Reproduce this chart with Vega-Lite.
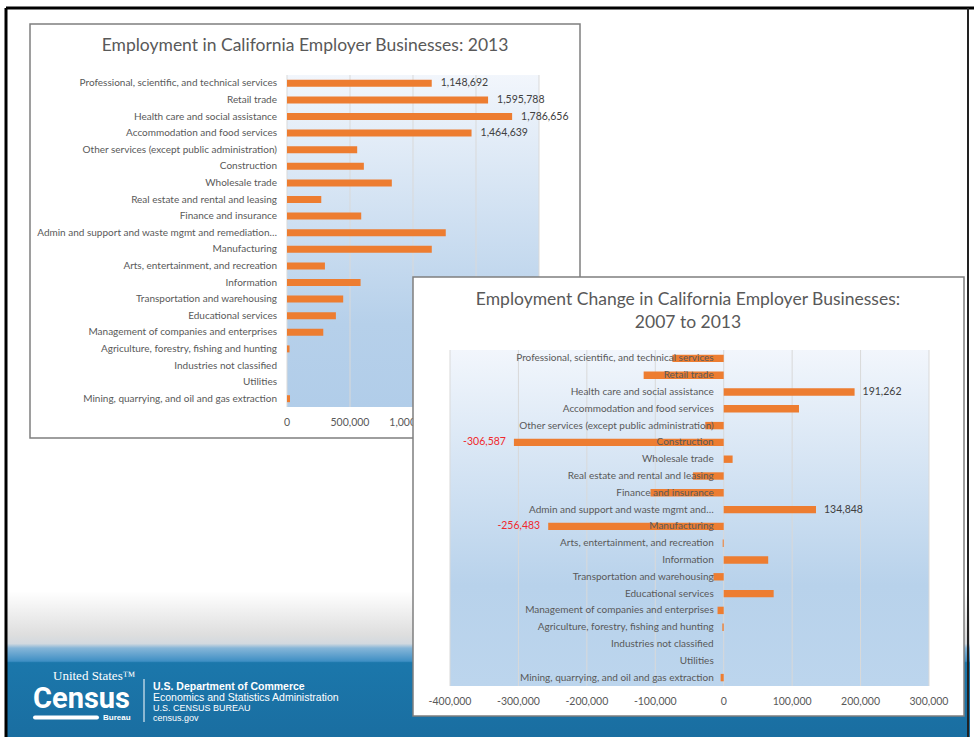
{
  "$schema": "https://vega.github.io/schema/vega-lite/v6.json",
  "background": "white",
  "width": 964,
  "height": 729,
  "autosize": {"type": "none"},
  "padding": {"left": 6, "top": 8, "right": 4, "bottom": 0},
  "config": {
    "view": {"stroke": null},
    "locale": {"number": {"decimal": ".", "thousands": ",", "grouping": [3], "currency": ["$", ""], "minus": "-"}}
  },
  "datasets": {
    "employment2013": [
      {"industry": "Professional, scientific, and technical services", "employees": 1148692},
      {"industry": "Retail trade", "employees": 1595788},
      {"industry": "Health care and social assistance", "employees": 1786656},
      {"industry": "Accommodation and food services", "employees": 1464639},
      {"industry": "Other services (except public administration)", "employees": 557000},
      {"industry": "Construction", "employees": 610000},
      {"industry": "Wholesale trade", "employees": 832000},
      {"industry": "Real estate and rental and leasing", "employees": 272000},
      {"industry": "Finance and insurance", "employees": 589000},
      {"industry": "Admin and support and waste mgmt and remediation…", "employees": 1260000},
      {"industry": "Manufacturing", "employees": 1149000},
      {"industry": "Arts, entertainment, and recreation", "employees": 301000},
      {"industry": "Information", "employees": 584000},
      {"industry": "Transportation and warehousing", "employees": 446000},
      {"industry": "Educational services", "employees": 388000},
      {"industry": "Management of companies and enterprises", "employees": 288000},
      {"industry": "Agriculture, forestry, fishing and hunting", "employees": 20000},
      {"industry": "Industries not classified", "employees": 0},
      {"industry": "Utilities", "employees": 0},
      {"industry": "Mining, quarrying, and oil and gas extraction", "employees": 24000}
    ],
    "change0713": [
      {"industry": "Professional, scientific, and technical services", "change": -75000},
      {"industry": "Retail trade", "change": -117000},
      {"industry": "Health care and social assistance", "change": 191262},
      {"industry": "Accommodation and food services", "change": 110000},
      {"industry": "Other services (except public administration)", "change": -27000},
      {"industry": "Construction", "change": -306587},
      {"industry": "Wholesale trade", "change": 13000},
      {"industry": "Real estate and rental and leasing", "change": -45000},
      {"industry": "Finance and insurance", "change": -107000},
      {"industry": "Admin and support and waste mgmt and…", "change": 134848},
      {"industry": "Manufacturing", "change": -256483},
      {"industry": "Arts, entertainment, and recreation", "change": -1500},
      {"industry": "Information", "change": 65000},
      {"industry": "Transportation and warehousing", "change": -15000},
      {"industry": "Educational services", "change": 73000},
      {"industry": "Management of companies and enterprises", "change": -9000},
      {"industry": "Agriculture, forestry, fishing and hunting", "change": -2000},
      {"industry": "Industries not classified", "change": 0},
      {"industry": "Utilities", "change": 0},
      {"industry": "Mining, quarrying, and oil and gas extraction", "change": -4500}
    ]
  },
  "resolve": {
    "scale": {"x": "independent", "y": "independent"},
    "axis": {"x": "independent", "y": "independent"}
  },
  "layer": [
    {
      "data": {"values": [{}]},
      "mark": {
        "type": "rect",
        "color": {
          "gradient": "linear", "x1": 0, "y1": 0, "x2": 0, "y2": 1,
          "stops": [
            {"offset": 0, "color": "#ffffff"},
            {"offset": 0.8, "color": "#ffffff"},
            {"offset": 0.86, "color": "#dedede"},
            {"offset": 0.872, "color": "#d2d9df"},
            {"offset": 0.878, "color": "#86b6d8"},
            {"offset": 0.896, "color": "#3f8fc4"},
            {"offset": 0.898, "color": "#1b77ab"},
            {"offset": 1, "color": "#1a6ea1"}
          ]
        }
      },
      "encoding": {}
    },
    {
      "data": {"values": [{}]},
      "mark": {"type": "rule", "color": "#000000", "strokeWidth": 3},
      "encoding": {"x": {"value": 0}, "x2": {"value": 968}, "y": {"value": 0}}
    },
    {
      "data": {"values": [{}]},
      "mark": {"type": "rule", "color": "#000000", "strokeWidth": 3},
      "encoding": {"x": {"value": 0}, "y": {"value": 0}, "y2": {"value": 729}}
    },
    {
      "data": {"values": [{}]},
      "mark": {"type": "rule", "color": "#222222", "strokeWidth": 2},
      "encoding": {"x": {"value": 962}, "y": {"value": 0}, "y2": {"value": 729}}
    },
    {
      "data": {"values": [{}]},
      "mark": {"type": "text", "text": "United States™", "font": "Liberation Serif", "fontSize": 13, "color": "white", "align": "left", "baseline": "middle"},
      "encoding": {"x": {"value": 47}, "y": {"value": 668}}
    },
    {
      "data": {"values": [{}]},
      "mark": {"type": "text", "text": "Census", "font": "Roboto", "fontWeight": "bold", "fontSize": 29, "color": "white", "align": "left", "baseline": "alphabetic"},
      "encoding": {"x": {"value": 27}, "y": {"value": 700}}
    },
    {
      "data": {"values": [{}]},
      "mark": {"type": "rule", "color": "white", "strokeWidth": 4, "strokeCap": "round"},
      "encoding": {"x": {"value": 29}, "x2": {"value": 91}, "y": {"value": 709.5}}
    },
    {
      "data": {"values": [{}]},
      "mark": {"type": "text", "text": "Bureau", "font": "Liberation Sans", "fontWeight": "bold", "fontSize": 8, "color": "white", "align": "left", "baseline": "middle"},
      "encoding": {"x": {"value": 97}, "y": {"value": 710}}
    },
    {
      "data": {"values": [{}]},
      "mark": {"type": "rule", "color": "white", "strokeWidth": 1},
      "encoding": {"x": {"value": 138}, "y": {"value": 671}, "y2": {"value": 714}}
    },
    {
      "data": {"values": [{}]},
      "mark": {"type": "text", "text": "U.S. Department of Commerce", "font": "Liberation Sans", "fontWeight": "bold", "fontSize": 10.5, "color": "white", "align": "left", "baseline": "middle"},
      "encoding": {"x": {"value": 147}, "y": {"value": 678.5}}
    },
    {
      "data": {"values": [{}]},
      "mark": {"type": "text", "text": "Economics and Statistics Administration", "font": "Liberation Sans", "fontSize": 10.5, "color": "white", "align": "left", "baseline": "middle"},
      "encoding": {"x": {"value": 147}, "y": {"value": 690.3}}
    },
    {
      "data": {"values": [{}]},
      "mark": {"type": "text", "text": "U.S. CENSUS BUREAU", "font": "Liberation Sans", "fontSize": 9, "color": "white", "align": "left", "baseline": "middle"},
      "encoding": {"x": {"value": 147}, "y": {"value": 700.3}}
    },
    {
      "data": {"values": [{}]},
      "mark": {"type": "text", "text": "census.gov", "font": "Liberation Sans", "fontSize": 9, "color": "white", "align": "left", "baseline": "middle"},
      "encoding": {"x": {"value": 147}, "y": {"value": 709.7}}
    },
    {
      "data": {"values": [{}]},
      "mark": {"type": "rect", "fill": "white", "stroke": "#7f7f7f", "strokeWidth": 1.5},
      "encoding": {"x": {"value": 24}, "x2": {"value": 574}, "y": {"value": 16}, "y2": {"value": 430}}
    },
    {
      "data": {"values": [{}]},
      "mark": {"type": "text", "text": "Employment in California Employer Businesses: 2013", "font": "Lato", "fontSize": 17.5, "color": "#595959", "align": "center", "baseline": "middle"},
      "encoding": {"x": {"value": 299}, "y": {"value": 38}}
    },
    {
      "resolve": {"scale": {"y": "independent"}, "axis": {"y": "independent"}},
      "layer": [
        {
          "layer": [
            {
              "data": {"values": [{}]},
              "mark": {
                "type": "rect",
                "color": {
                  "gradient": "linear", "x1": 0, "y1": 0, "x2": 0, "y2": 1,
                  "stops": [
                    {"offset": 0, "color": "#f2f6fc"},
                    {"offset": 0.75, "color": "#b6d0ea"},
                    {"offset": 1, "color": "#b1cde9"}
                  ]
                }
              },
              "encoding": {
                "x": {"datum": 0, "type": "quantitative", "scale": {"domain": [0, 2000000], "range": [281, 533], "nice": false, "zero": false}, "axis": null},
                "x2": {"datum": 2000000},
                "y": {"datum": 0, "type": "quantitative", "scale": {"domain": [0, 1], "range": [67, 399], "nice": false, "zero": false}, "axis": null},
                "y2": {"datum": 1}
              }
            },
            {
              "data": {"values": [{"tick": 0}, {"tick": 500000}, {"tick": 1000000}, {"tick": 1500000}, {"tick": 2000000}]},
              "layer": [
                {
                  "mark": {"type": "rule", "color": "#d9d9d9", "strokeWidth": 1},
                  "encoding": {
                    "x": {"field": "tick", "type": "quantitative", "axis": null},
                    "y": {"datum": 0, "type": "quantitative", "axis": null},
                    "y2": {"datum": 1}
                  }
                },
                {
                  "mark": {"type": "text", "align": "center", "baseline": "middle", "dy": 16, "font": "Lato", "fontSize": 10.5, "color": "#595959"},
                  "encoding": {
                    "x": {"field": "tick", "type": "quantitative", "axis": null},
                    "y": {"datum": 1, "type": "quantitative", "axis": null},
                    "text": {"field": "tick", "type": "quantitative", "format": ","}
                  }
                }
              ]
            }
          ]
        },
        {
          "data": {"name": "employment2013"},
          "encoding": {
            "y": {
              "field": "industry", "type": "nominal", "axis": null,
              "scale": {
                "domain": ["Professional, scientific, and technical services", "Retail trade", "Health care and social assistance", "Accommodation and food services", "Other services (except public administration)", "Construction", "Wholesale trade", "Real estate and rental and leasing", "Finance and insurance", "Admin and support and waste mgmt and remediation…", "Manufacturing", "Arts, entertainment, and recreation", "Information", "Transportation and warehousing", "Educational services", "Management of companies and enterprises", "Agriculture, forestry, fishing and hunting", "Industries not classified", "Utilities", "Mining, quarrying, and oil and gas extraction"],
                "range": [67, 399], "paddingInner": 0.58, "paddingOuter": 0.29
              }
            }
          },
          "layer": [
            {
              "mark": {"type": "bar", "color": "#ED7D31"},
              "encoding": {
                "x": {
                  "field": "employees", "type": "quantitative",
                  "scale": {"domain": [0, 2000000], "range": [281, 533], "nice": false, "zero": false},
                  "axis": null
                }
              }
            },
            {
              "mark": {"type": "text", "align": "right", "baseline": "middle", "dx": -10, "font": "Lato", "fontSize": 10, "color": "#595959"},
              "encoding": {
                "x": {"datum": 0, "type": "quantitative"},
                "text": {"field": "industry", "type": "nominal"}
              }
            },
            {
              "transform": [{"filter": {"field": "industry", "oneOf": ["Professional, scientific, and technical services", "Retail trade", "Health care and social assistance", "Accommodation and food services"]}}],
              "mark": {"type": "text", "align": "left", "baseline": "middle", "dx": 9, "font": "Lato", "fontSize": 10.5, "color": "#404040"},
              "encoding": {
                "x": {"field": "employees", "type": "quantitative"},
                "text": {"field": "employees", "type": "quantitative", "format": ","}
              }
            }
          ]
        }
      ]
    },
    {
      "data": {"values": [{}]},
      "mark": {"type": "rect", "fill": "white", "stroke": "#7f7f7f", "strokeWidth": 1.5},
      "encoding": {"x": {"value": 407}, "x2": {"value": 958}, "y": {"value": 269}, "y2": {"value": 708}}
    },
    {
      "data": {"values": [{}]},
      "mark": {"type": "text", "text": "Employment Change in California Employer Businesses:", "font": "Lato", "fontSize": 17.5, "color": "#595959", "align": "center", "baseline": "middle"},
      "encoding": {"x": {"value": 682}, "y": {"value": 292}}
    },
    {
      "data": {"values": [{}]},
      "mark": {"type": "text", "text": "2007 to 2013", "font": "Lato", "fontSize": 17.5, "color": "#595959", "align": "center", "baseline": "middle"},
      "encoding": {"x": {"value": 682}, "y": {"value": 315}}
    },
    {
      "resolve": {"scale": {"y": "independent"}, "axis": {"y": "independent"}},
      "layer": [
        {
          "layer": [
            {
              "data": {"values": [{}]},
              "mark": {
                "type": "rect",
                "color": {
                  "gradient": "linear", "x1": 0, "y1": 0, "x2": 0, "y2": 1,
                  "stops": [
                    {"offset": 0, "color": "#f2f6fc"},
                    {"offset": 0.7, "color": "#b8d2eb"},
                    {"offset": 1, "color": "#bcd5ed"}
                  ]
                }
              },
              "encoding": {
                "x": {"datum": -400000, "type": "quantitative", "scale": {"domain": [-400000, 300000], "range": [444, 923], "nice": false, "zero": false}, "axis": null},
                "x2": {"datum": 300000},
                "y": {"datum": 0, "type": "quantitative", "scale": {"domain": [0, 1], "range": [342, 678], "nice": false, "zero": false}, "axis": null},
                "y2": {"datum": 1}
              }
            },
            {
              "data": {"values": [{"tick": -400000}, {"tick": -300000}, {"tick": -200000}, {"tick": -100000}, {"tick": 0}, {"tick": 100000}, {"tick": 200000}, {"tick": 300000}]},
              "layer": [
                {
                  "mark": {"type": "rule", "color": "#d9d9d9", "strokeWidth": 1},
                  "encoding": {
                    "x": {"field": "tick", "type": "quantitative", "axis": null},
                    "y": {"datum": 0, "type": "quantitative", "axis": null},
                    "y2": {"datum": 1}
                  }
                },
                {
                  "mark": {"type": "text", "align": "center", "baseline": "middle", "dy": 16, "font": "Lato", "fontSize": 10.5, "color": "#595959"},
                  "encoding": {
                    "x": {"field": "tick", "type": "quantitative", "axis": null},
                    "y": {"datum": 1, "type": "quantitative", "axis": null},
                    "text": {"field": "tick", "type": "quantitative", "format": ","}
                  }
                }
              ]
            }
          ]
        },
        {
          "data": {"name": "change0713"},
          "encoding": {
            "y": {
              "field": "industry", "type": "nominal", "axis": null,
              "scale": {
                "domain": ["Professional, scientific, and technical services", "Retail trade", "Health care and social assistance", "Accommodation and food services", "Other services (except public administration)", "Construction", "Wholesale trade", "Real estate and rental and leasing", "Finance and insurance", "Admin and support and waste mgmt and…", "Manufacturing", "Arts, entertainment, and recreation", "Information", "Transportation and warehousing", "Educational services", "Management of companies and enterprises", "Agriculture, forestry, fishing and hunting", "Industries not classified", "Utilities", "Mining, quarrying, and oil and gas extraction"],
                "range": [342, 678], "paddingInner": 0.56, "paddingOuter": 0.28
              }
            }
          },
          "layer": [
            {
              "mark": {"type": "bar", "color": "#ED7D31"},
              "encoding": {
                "x": {
                  "field": "change", "type": "quantitative",
                  "scale": {"domain": [-400000, 300000], "range": [444, 923], "nice": false, "zero": false},
                  "axis": null
                }
              }
            },
            {
              "mark": {"type": "text", "align": "right", "baseline": "middle", "dx": -10, "font": "Lato", "fontSize": 10, "color": "#595959"},
              "encoding": {
                "x": {"datum": 0, "type": "quantitative"},
                "text": {"field": "industry", "type": "nominal"}
              }
            },
            {
              "transform": [{"filter": {"field": "industry", "oneOf": ["Health care and social assistance", "Admin and support and waste mgmt and…"]}}],
              "mark": {"type": "text", "align": "left", "baseline": "middle", "dx": 8, "font": "Lato", "fontSize": 10.5, "color": "#404040"},
              "encoding": {
                "x": {"field": "change", "type": "quantitative"},
                "text": {"field": "change", "type": "quantitative", "format": ","}
              }
            },
            {
              "transform": [{"filter": {"field": "industry", "oneOf": ["Construction", "Manufacturing"]}}],
              "mark": {"type": "text", "align": "right", "baseline": "middle", "dx": -8, "font": "Lato", "fontSize": 10.5, "color": "#f0282d"},
              "encoding": {
                "x": {"field": "change", "type": "quantitative"},
                "text": {"field": "change", "type": "quantitative", "format": ","}
              }
            }
          ]
        }
      ]
    }
  ]
}
